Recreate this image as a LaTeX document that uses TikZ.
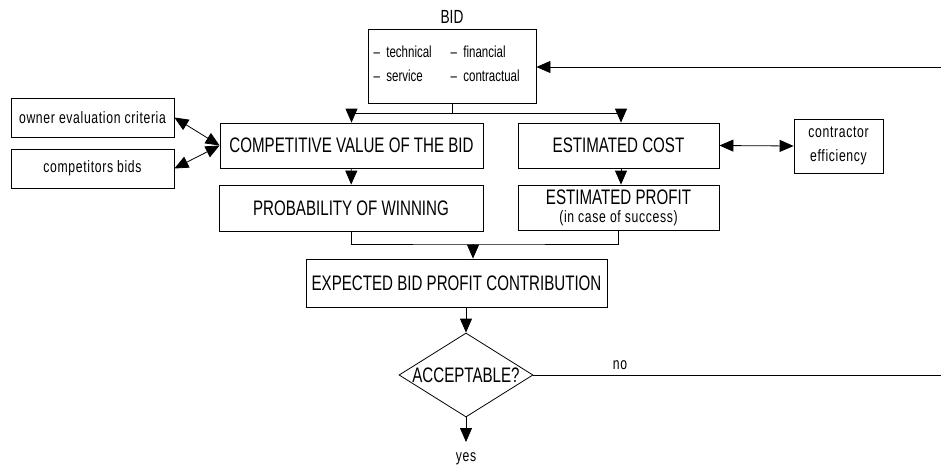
\documentclass[tikz,border=0pt]{standalone}
\usepackage{fontspec}
\setmainfont{Liberation Sans}[FakeStretch=0.72]
\newfontfamily\smallfam{Liberation Sans}[FakeStretch=0.74,LetterSpace=4]
\usetikzlibrary{arrows.meta,shapes.geometric}
\begin{document}
\begin{tikzpicture}[x=1pt,y=-1pt,
  box/.style={draw,line width=0.8pt,inner sep=0pt,align=center},
  big/.style={font=\fontsize{21}{24}\selectfont},
  small/.style={font=\smallfam\fontsize{16.5}{22}\selectfont},
  list/.style={font=\fontsize{16}{20}\selectfont},
  ln/.style={line width=0.8pt},
  arr/.style={ln,-{Triangle[length=14pt,width=12pt]}},
  darr/.style={ln,{Triangle[length=14pt,width=12pt]}-{Triangle[length=14pt,width=12pt]}}]
\useasboundingbox (0,0) rectangle (941,466);
% BID
\node[font=\fontsize{19}{22}\selectfont] (bidlabel) at (452,17) {BID};
\node[box,minimum width=168pt,minimum height=74pt] (bid) at (452,66) {};
\node[list,anchor=west] (t1) at (370,52) {–\ \ technical};
\node[list,anchor=west] (t2) at (447,52) {–\ \ financial};
\node[list,anchor=west] (t3) at (370,76) {–\ \ service};
\node[list,anchor=west] (t4) at (447,76) {–\ \ contractual};
% boxes
\node[box,big,minimum width=263pt,minimum height=45pt] (comp) at (351.5,145.5) {COMPETITIVE VALUE OF THE BID};
\node[box,big,minimum width=264pt,minimum height=46pt] (prob) at (351,208) {PROBABILITY OF WINNING};
\node[box,big,minimum width=201pt,minimum height=45pt] (cost) at (618.5,145.5) {ESTIMATED COST};
\node[box,minimum width=201pt,minimum height=45pt] (profit) at (618.5,207.5) {};
\node[big] (profit1) at (618.5,197) {ESTIMATED PROFIT};
\node[small] (profit2) at (618.5,218) {(in case of success)};
\node[box,minimum width=89pt,minimum height=54pt,font=\smallfam\fontsize{16.5}{24}\selectfont] (contr) at (838.5,146) {contractor\\efficiency};
\node[box,small,minimum width=163pt,minimum height=39pt] (owner) at (92.5,117.5) {owner evaluation criteria};
\node[box,small,minimum width=163pt,minimum height=39pt] (compet) at (92.5,168.5) {competitors bids};
\node[box,big,minimum width=301pt,minimum height=48pt] (exp) at (456.5,283) {EXPECTED BID PROFIT CONTRIBUTION};
\node[draw,ln,diamond,aspect=1.6,inner sep=0pt,minimum width=134pt,minimum height=84pt,big] (dec) at (466,375) {ACCEPTABLE?};
\node[small] (yes) at (466,459) {yes};
\node[small] (no) at (620,365) {no};
% coordinates
\coordinate (j1) at (452,113);
\coordinate (j2) at (473,244);
\coordinate (yesend) at (466,442);
\coordinate (noend) at (941,375);
\coordinate (backin) at (941,67);
% connectors
\draw[ln] (bid.south) -- (j1);
\draw[arr] (j1) -| (comp.north);
\draw[arr] (j1) -| ([xshift=2.5pt]cost.north);
\draw[arr] (comp) -- (prob);
\draw[arr] ([xshift=2.5pt]cost.south) -- ([xshift=2.5pt]profit.north);
\draw[ln] (prob.south) |- (j2) -| (profit.south);
\draw[arr] (j2) -- (j2 |- exp.north);
\draw[arr] (exp.south -| dec.north) -- (dec.north);
\draw[arr] (dec.south) -- (yesend);
\draw[ln] (dec.east) -- (noend);
\draw[arr] (backin) -- (backin -| bid.east);
\draw[darr] (cost.east) -- (contr.west);
\draw[darr] (owner.east) -- (comp.west);
\draw[darr] (compet.east) -- (comp.west);
\end{tikzpicture}
\end{document}
